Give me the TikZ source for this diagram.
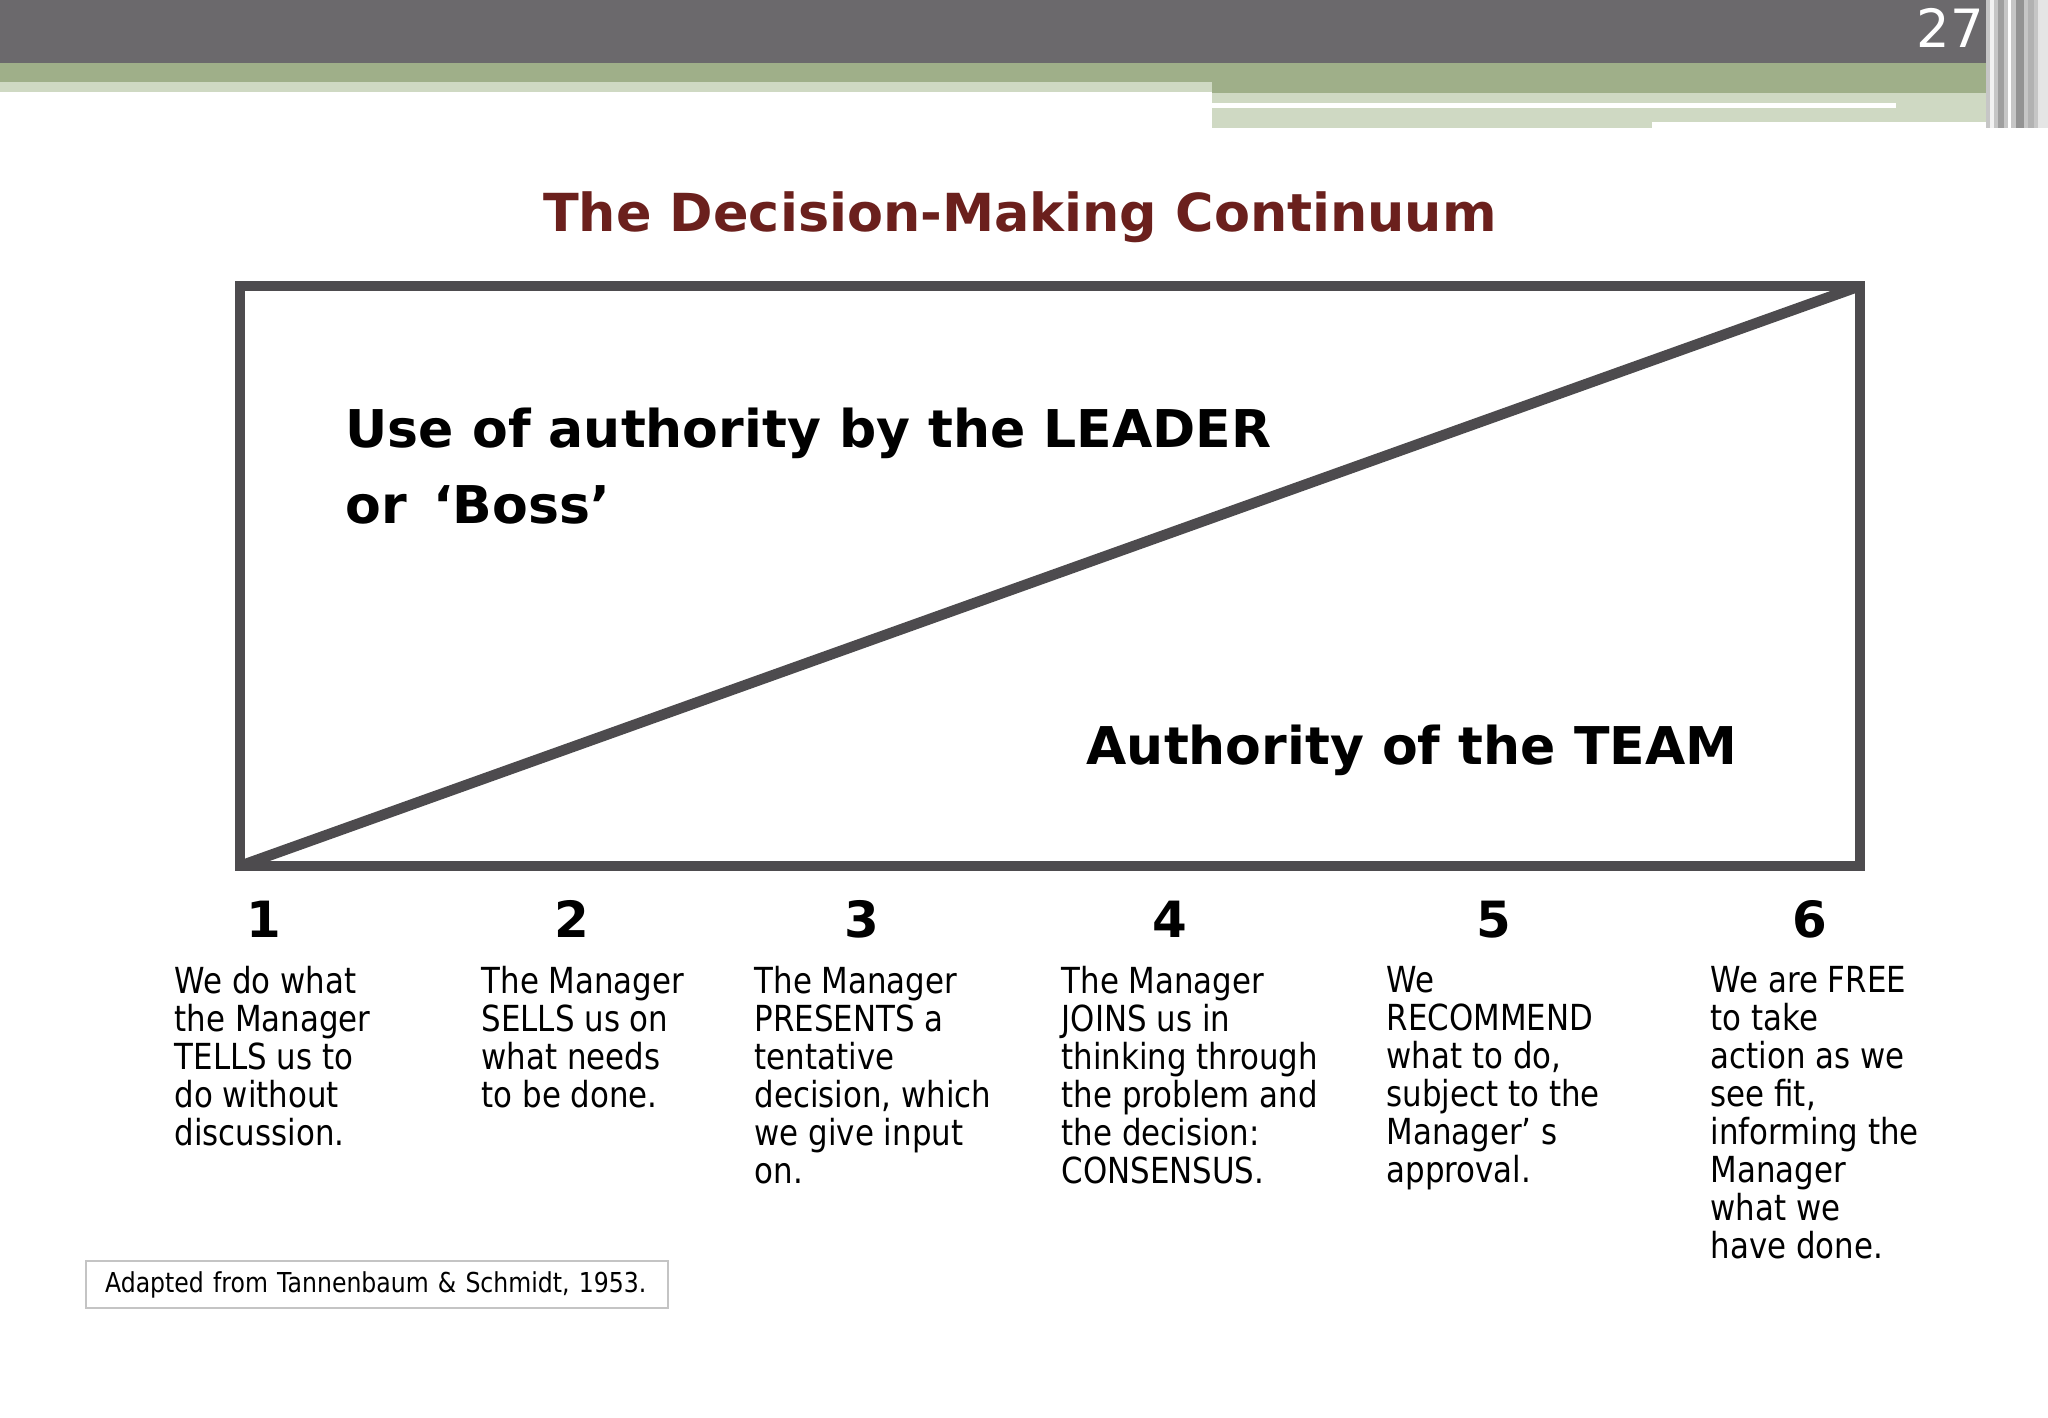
\documentclass[tikz,border=0pt]{standalone}
\usepackage{fontspec}
\setmainfont{DejaVu Sans}
\newfontfamily\narrowfont[FakeStretch=0.86]{DejaVu Sans}
\usepackage{tikz}
\usetikzlibrary{positioning}
\definecolor{headgray}{HTML}{6B696C}
\definecolor{midgreen}{HTML}{9FAF89}
\definecolor{palegreen}{HTML}{CFD9C3}
\definecolor{framegray}{HTML}{4D4B4E}
\definecolor{titlered}{HTML}{6B201D}
\definecolor{boxgray}{HTML}{C4C4C4}

\tikzset{
  frame/.style={draw=framegray,line width=3pt,line join=miter},
  bigtext/.style={font=\bfseries\fontsize{14.8}{21.6}\selectfont,inner sep=0pt},
  numlabel/.style={font=\bfseries\fontsize{14.2}{17}\selectfont,anchor=base,inner sep=0pt},
  coltext/.style={font=\narrowfont\fontsize{10.2}{10.8}\selectfont,align=left,anchor=north west,inner sep=0pt}
}

\begin{document}
\begin{tikzpicture}[x=0.01cm,y=-0.01cm]
    \useasboundingbox (0,0) rectangle (2048,1418);
    \fill[white] (0,0) rectangle (2048,1418);

    % header bars
    \fill[headgray] (0,0) rectangle (2048,63);
    \fill[midgreen] (0,63) rectangle (2011,82);
    \fill[palegreen] (0,82) rectangle (1212,92);
    \fill[midgreen] (1212,82) rectangle (2011,93);
    \fill[palegreen] (1212,93) rectangle (2011,128);
    \fill[white] (1212,103) rectangle (1896,108);
    \fill[white] (1652,122) rectangle (2011,128);
    \fill[gray!45] (1986,0) rectangle (2048,128);
    \fill[white!90!gray] (1990,0) rectangle (1994,128);
    \fill[gray!75] (1998,0) rectangle (2004,128);
    \fill[white] (2008,0) rectangle (2011,128);
    \fill[gray!85] (2016,0) rectangle (2024,128);
    \fill[gray!60] (2028,0) rectangle (2034,128);
    \fill[gray!20] (2038,0) rectangle (2048,128);
    \node[text=white,font=\fontsize{15}{18}\selectfont,inner sep=0pt] (pagenum) at (1950,28) {27};

    % title
    \node[text=titlered,font=\bfseries\fontsize{14.9}{18}\selectfont,anchor=base,inner sep=0pt] (title) at (1020,231) {The Decision-Making Continuum};

    % continuum box
    \coordinate (botleft) at (240,866);
    \coordinate (topright) at (1860,286);
    \draw[frame] (botleft) rectangle (topright);
    \draw[frame] (botleft) -- (topright);

    \node[bigtext,align=left,anchor=north west] (leader) at (345,407) {Use of authority by the LEADER\\or\enspace‘Boss’};
    \node[bigtext,anchor=base west] (team) at (1086,764) {Authority of the TEAM};

    % scale points
    \node[numlabel] (n1) at (264,937) {1};
    \node[numlabel] (n2) at (572,937) {2};
    \node[numlabel] (n3) at (862,937) {3};
    \node[numlabel] (n4) at (1170,937) {4};
    \node[numlabel] (n5) at (1494,937) {5};
    \node[numlabel] (n6) at (1810,937) {6};

    \node[coltext] (t1) at (174,966) {We do what\\the Manager\\TELLS us to\\do without\\discussion.};
    \node[coltext] (t2) at (481,966) {The Manager\\SELLS us on\\what needs\\to be done.};
    \node[coltext] (t3) at (754,966) {The Manager\\PRESENTS a\\tentative\\decision, which\\we give input\\on.};
    \node[coltext] (t4) at (1061,966) {The Manager\\JOINS us in\\thinking through\\the problem and\\the decision:\\CONSENSUS.};
    \node[coltext] (t5) at (1386,966) {We\\RECOMMEND\\what to do,\\subject to the\\Manager’ s\\approval.};
    \node[coltext] (t6) at (1710,966) {We are FREE\\to take\\action as we\\see fit,\\informing the\\Manager\\what we\\have done.};

    % source
    \node[draw=boxgray,line width=0.6pt,anchor=north west,minimum width=5.82cm,minimum height=0.47cm,
          text width=5.44cm,inner xsep=0.19cm,inner ysep=0pt,align=left,
          font=\narrowfont\fontsize{7.8}{9}\selectfont] (source) at (85,1260) {Adapted from Tannenbaum \& Schmidt, 1953.};
\end{tikzpicture}
\end{document}
